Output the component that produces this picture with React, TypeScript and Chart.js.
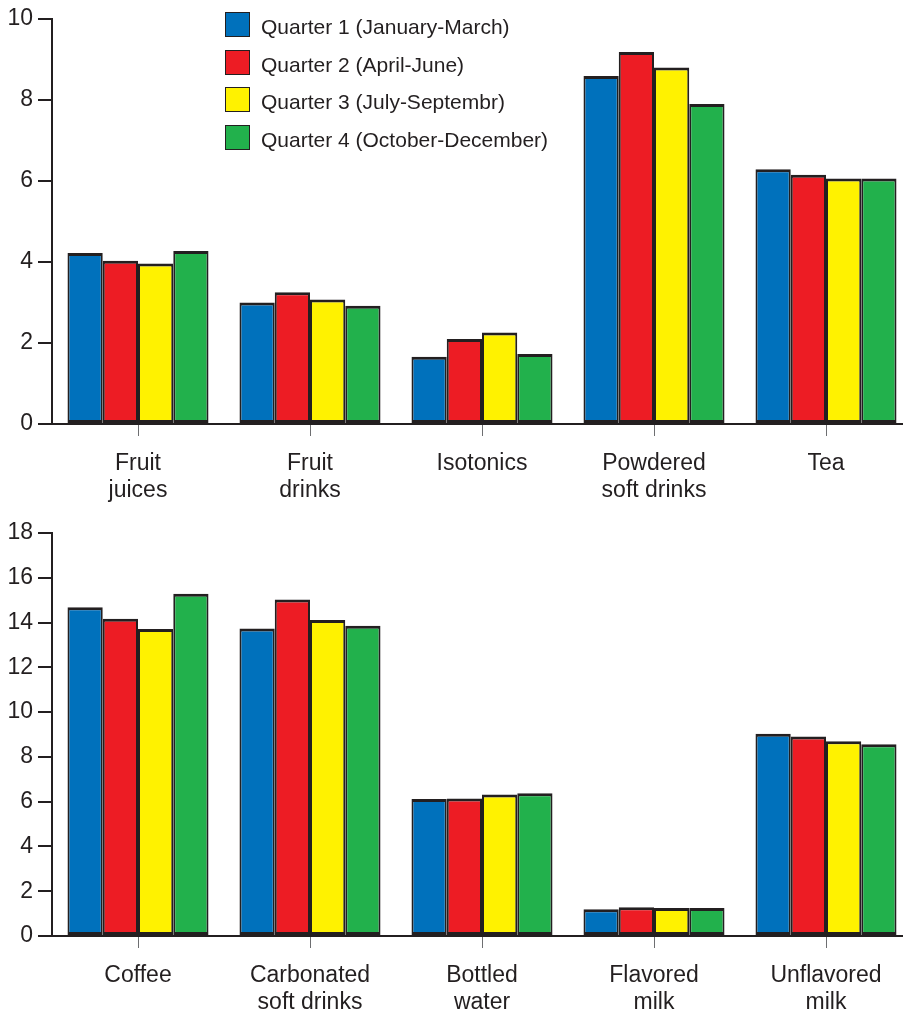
import React, { useEffect, useRef } from "react";
import { Chart, registerables } from "chart.js";

Chart.register(...registerables);

const seriesNames = [
  "Quarter 1 (January-March)",
  "Quarter 2 (April-June)",
  "Quarter 3 (July-Septembr)",
  "Quarter 4 (October-December)",
];
const seriesColors = ["#0071bc", "#ed1c24", "#fff200", "#22b14c"];

const topCategories = [["Fruit", "juices"], ["Fruit", "drinks"], ["Isotonics"], ["Powdered", "soft drinks"], ["Tea"]];
const topQ1 = [4.22, 3.0, 1.66, 8.59, 6.29];
const topQ2 = [4.03, 3.25, 2.1, 9.18, 6.15];
const topQ3 = [3.96, 3.07, 2.26, 8.8, 6.06];
const topQ4 = [4.27, 2.92, 1.73, 7.9, 6.06];
const topTicks = [0, 2, 4, 6, 8, 10];

const bottomCategories = [["Coffee"], ["Carbonated", "soft drinks"], ["Bottled", "water"], ["Flavored", "milk"], ["Unflavored", "milk"]];
const bottomQ1 = [14.68, 13.74, 6.12, 1.19, 9.03];
const bottomQ2 = [14.17, 15.03, 6.14, 1.28, 8.91];
const bottomQ3 = [13.71, 14.11, 6.32, 1.25, 8.7];
const bottomQ4 = [15.29, 13.86, 6.38, 1.25, 8.57];
const bottomTicks = [0, 2, 4, 6, 8, 10, 12, 14, 16, 18];

const INK = "#231f20";
const FONT = "'Liberation Sans', Arial, Helvetica, sans-serif";

function makeConfig(labels: string[][], series: number[][], ticks: number[], padTop: number, xAxisHeight: number): any {
  return {
    type: "bar",
    data: {
      labels,
      datasets: series.map((vals, i) => ({
        label: seriesNames[i],
        data: vals,
        backgroundColor: seriesColors[i],
        borderColor: INK,
        borderWidth: { top: 3, left: 2, right: 2, bottom: 3 },
        borderSkipped: false,
        barPercentage: 1,
        categoryPercentage: 0.82,
      })),
    },
    options: {
      responsive: false,
      animation: false,
      layout: { padding: { top: padTop, right: 0, left: 0, bottom: 0 } },
      plugins: { legend: { display: false }, tooltip: { enabled: false } },
      scales: {
        x: {
          type: "category",
          offset: true,
          grid: { offset: false, drawOnChartArea: false, drawTicks: true, tickLength: 12, color: "#6d6e71", lineWidth: 1 },
          border: { display: true, color: INK, width: 2 },
          ticks: { font: { family: FONT, size: 23, lineHeight: "27px" }, color: INK, padding: 14, maxRotation: 0, autoSkip: false },
          afterFit: (s: any) => { s.height = xAxisHeight; },
        },
        y: {
          type: "linear",
          min: ticks[0],
          max: ticks[ticks.length - 1],
          afterBuildTicks: (s: any) => { s.ticks = ticks.map((v) => ({ value: v })); },
          grid: { drawOnChartArea: false, drawTicks: true, tickLength: 14, color: INK, lineWidth: 2 },
          border: { display: true, color: INK, width: 2 },
          ticks: { font: { family: FONT, size: 23 }, color: INK, padding: 5 },
          afterFit: (s: any) => { s.width = 52; },
        },
      },
    },
  };
}

function BarPanel(props: { top: number; height: number; labels: string[][]; series: number[][]; ticks: number[]; padTop: number; xAxisHeight: number }) {
  const ref = useRef<HTMLCanvasElement | null>(null);
  useEffect(() => {
    if (!ref.current) return;
    const chart = new Chart(ref.current, makeConfig(props.labels, props.series, props.ticks, props.padTop, props.xAxisHeight));
    return () => chart.destroy();
  }, []);
  return (
    <canvas
      ref={ref}
      width={912}
      height={props.height}
      style={{ position: "absolute", left: 0, top: props.top, width: 912, height: props.height, display: "block" }}
    />
  );
}

export default function App() {
  return (
    <div style={{ position: "absolute", left: 0, top: 0, width: 903, height: 1013, overflow: "hidden", background: "#fff" }}>
      <BarPanel top={0} height={505} labels={topCategories} series={[topQ1, topQ2, topQ3, topQ4]} ticks={topTicks} padTop={18} xAxisHeight={81} />
      <BarPanel top={505} height={508} labels={bottomCategories} series={[bottomQ1, bottomQ2, bottomQ3, bottomQ4]} ticks={bottomTicks} padTop={28} xAxisHeight={77} />
      {seriesNames.map((name, i) => (
        <div key={name} style={{ position: "absolute", left: 225, top: 12 + i * 37.7, height: 25, display: "flex", alignItems: "center" }}>
          <div style={{ width: 25, height: 25, boxSizing: "border-box", border: `1.5px solid ${INK}`, background: seriesColors[i] }} />
          <span style={{ marginLeft: 11, fontFamily: FONT, fontSize: 21, color: INK, lineHeight: "25px", whiteSpace: "nowrap", position: "relative", top: 2 }}>{name}</span>
        </div>
      ))}
    </div>
  );
}
